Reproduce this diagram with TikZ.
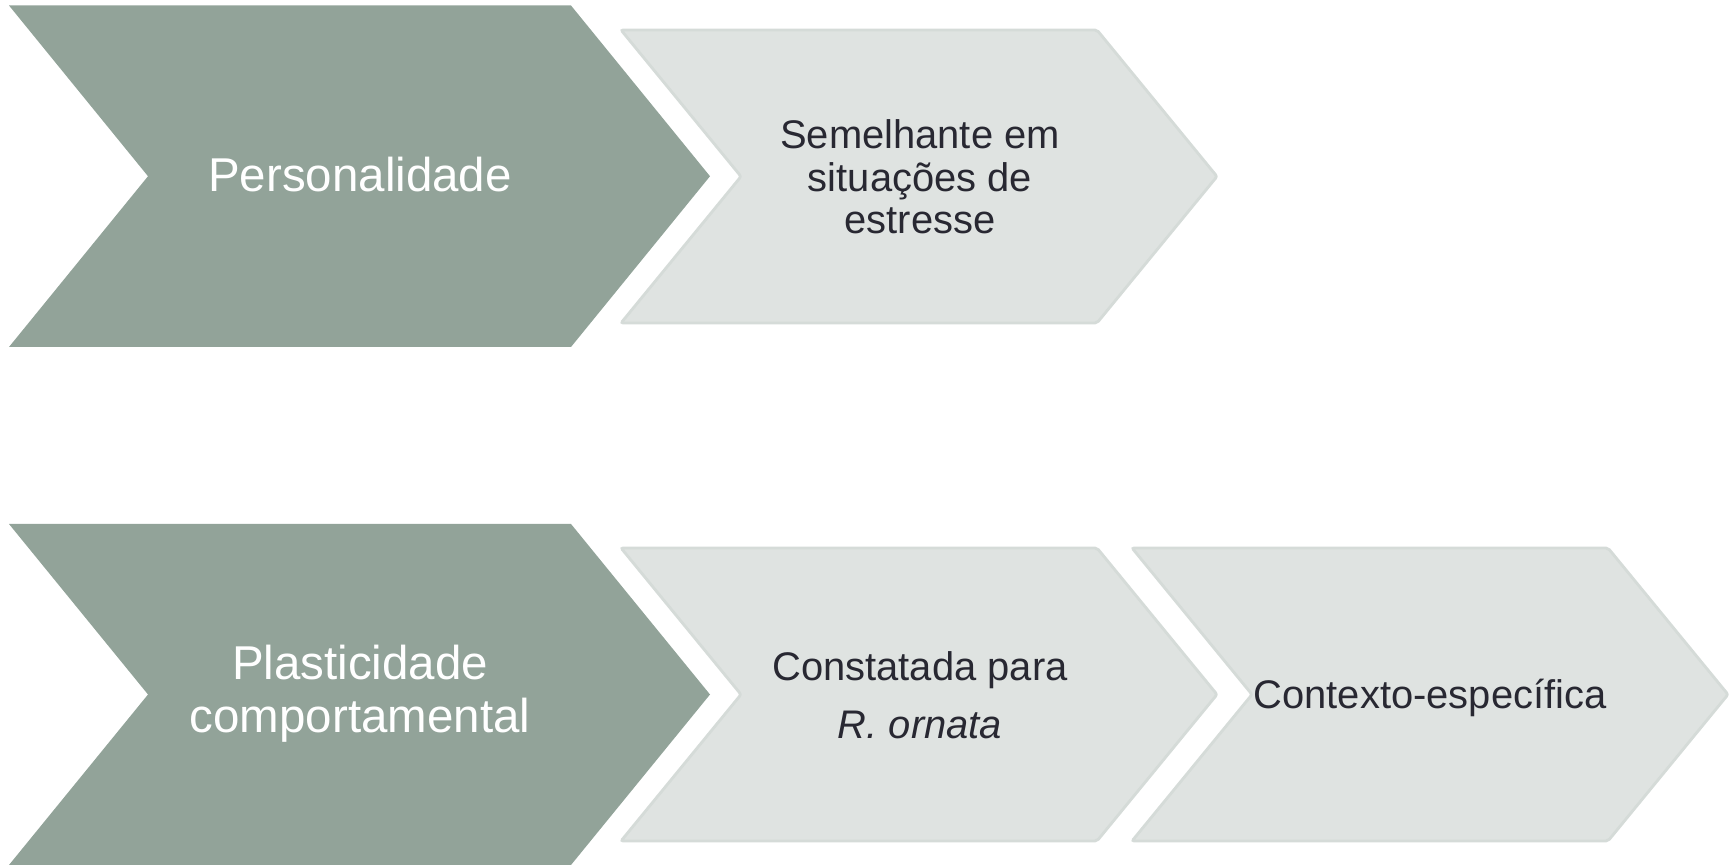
\documentclass[tikz,border=0pt]{standalone}
\usepackage{fontspec}
\setmainfont{Liberation Sans}
\usetikzlibrary{calc}
\definecolor{sage}{RGB}{146, 163, 153}
\definecolor{mist}{RGB}{223, 227, 225}
\definecolor{mistedge}{RGB}{213, 219, 216}
\definecolor{inkgrey}{RGB}{40, 40, 50}

% chevron: left x, top y, shoulder width, height, point depth
\newcommand{\chevron}[6][]{%
  \path[#1] (#2,#3) -- ({#2+#4},#3) -- ({#2+#4+#6},{#3+#5/2})
    -- ({#2+#4},{#3+#5}) -- (#2,{#3+#5}) -- ({#2+#6},{#3+#5/2}) -- cycle;}

\begin{document}
\begin{tikzpicture}[x=0.01cm, y=-0.01cm,
  bigstep/.style={fill=sage},
  smallstep/.style={fill=mist, draw=mistedge, line width=0.8pt, rounded corners=0.6pt},
  bigtext/.style={text=white, align=center, font=\fontsize{13.5}{15.1}\selectfont},
  smalltext/.style={text=inkgrey, align=center, font=\fontsize{11.35}{12.1}\selectfont}]
\useasboundingbox (0,0) rectangle (1733,865);

% Top row
\chevron[bigstep]{9}{5.5}{562}{341.5}{139}
\chevron[smallstep]{621}{30}{476}{293}{120}
\node[bigtext] (pers) at (360,175) {Personalidade};
\node[smalltext] (seme) at (920,177) {Semelhante em\\situações de\\estresse};

% Bottom row
\chevron[bigstep]{9}{524}{562}{341}{139}
\foreach \x in {621,1132} {
    \chevron[smallstep]{\x}{548}{476}{293}{120}
}
\node[bigtext] (plast) at (360,694) {Plasticidade\\comportamental};
\node[smalltext] (const) at (920,695) {Constatada para\\[4.3pt]\textit{R. ornata}};
\node[smalltext] (ctx) at (1430,698) {Contexto-específica};
\end{tikzpicture}
\end{document}
